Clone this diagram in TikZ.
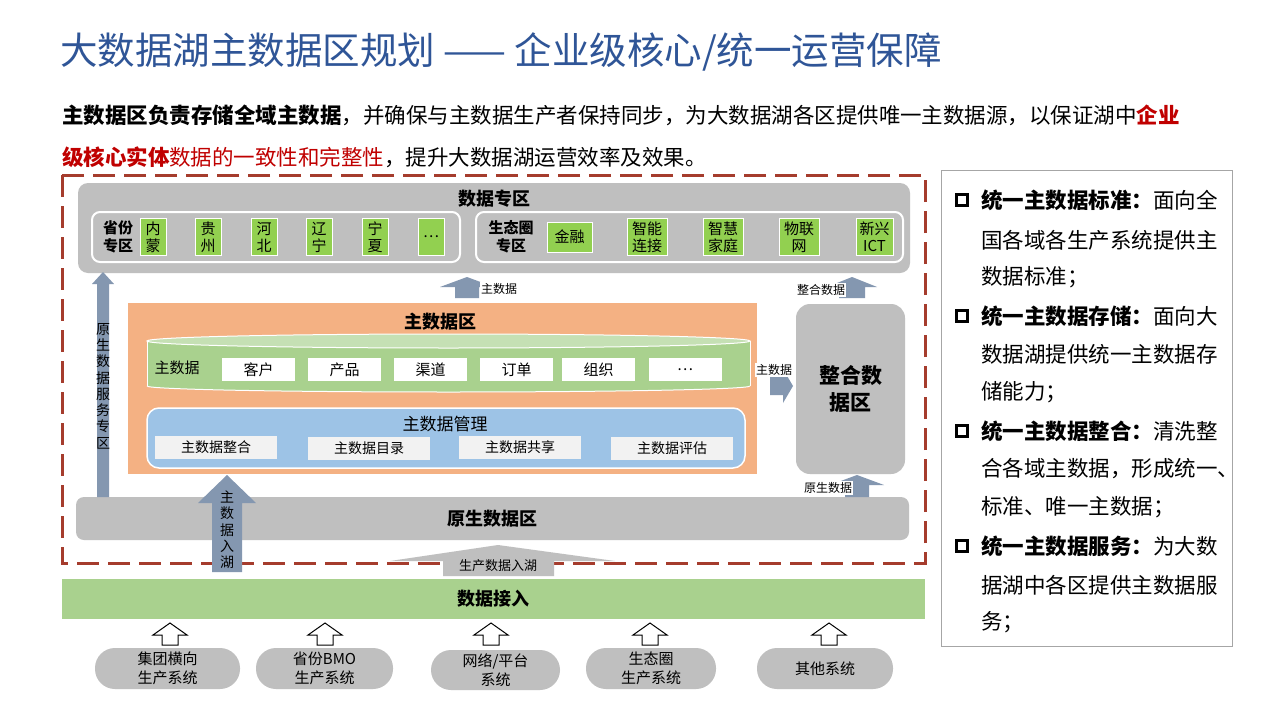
\documentclass[tikz,border=0pt]{standalone}
\usepackage{fontspec}
\setmainfont{Noto Sans CJK SC}
\definecolor{titleblue}{RGB}{47,85,151}
\definecolor{darkred}{RGB}{192,0,0}
\definecolor{dashred}{RGB}{165,60,45}
\definecolor{zonegray}{RGB}{191,191,191}
\definecolor{orangebg}{RGB}{244,177,131}
\definecolor{lgreen}{RGB}{169,209,142}
\definecolor{toplgreen}{RGB}{197,224,180}
\definecolor{vgreen}{RGB}{146,208,80}
\definecolor{lblue}{RGB}{157,195,230}
\definecolor{boxgray}{RGB}{242,242,242}
\definecolor{arrowblue}{RGB}{132,151,176}
\definecolor{panelgray}{RGB}{166,166,166}
\newcommand\fsz[2]{\fontsize{#1}{#2}\selectfont}
% block up arrow: style, cx, ytop, ybottom, head width, shaft width, head height
\newcommand\blockup[7]{\path[#1] ({#2-#6/2},#4) -- ({#2-#6/2},{#3+#7}) -- ({#2-#5/2},{#3+#7}) -- (#2,#3) -- ({#2+#5/2},{#3+#7}) -- ({#2+#6/2},{#3+#7}) -- ({#2+#6/2},#4) -- cycle;}
\tikzset{
  zone/.style={fill=zonegray, rounded corners=10pt},
  gbox/.style={fill=vgreen, draw=white, line width=1pt, font={\fsz{15}{17}}, align=center},
  wbox/.style={fill=white, font={\fsz{15}{18}}},
  mbox/.style={fill=boxgray, font={\fsz{14}{17}}},
  pill/.style={fill=zonegray, rounded corners=20pt, font={\fsz{15}{19}}, align=center},
  lbl/.style={font={\fsz{12}{14}}, fill=white, inner sep=1pt},
  vtext/.style={font={\fsz{14}{16.3}}, align=center},
  ptext/.style={anchor=west, font={\fsz{21.5}{24}}},
  bullet/.style={draw=black, line width=2.8pt, minimum size=11pt},
}
\begin{document}
\begin{tikzpicture}[x=1pt,y=-1pt, every node/.style={inner sep=0pt, outer sep=0pt}]
\useasboundingbox (0,0) rectangle (1280,720);
\fill[white] (0,0) rectangle (1280,720);

% title and intro
\node[anchor=west, text=titleblue, font={\fsz{37.5}{42}}] (title) at (60,52) {大数据湖主数据区规划 —— 企业级核心/统一运营保障};
\node[anchor=west, font={\fsz{21.5}{24}}] (intro1) at (62,115) {{\bfseries 主数据区负责存储全域主数据}，并确保与主数据生产者保持同步，为大数据湖各区提供唯一主数据源，以保证湖中{\color{darkred}\bfseries 企业}};
\node[anchor=west, font={\fsz{21.5}{24}}] (intro2) at (62,157) {{\color{darkred}{\bfseries 级核心实体}数据的一致性和完整性}，提升大数据湖运营效率及效果。};

% dashed frame
\draw[dashred, line width=3pt, dash pattern=on 22pt off 9pt] (62,175) rectangle (925,563);

% data zone
\node[zone, minimum width=832pt, minimum height=90pt] (dz) at (494,228) {};
\node[font={\fsz{18}{20}\bfseries}] (dzt) at (494,199) {数据专区};
\node[draw=white, line width=2pt, rounded corners=8pt, minimum width=368pt, minimum height=50pt] (prov) at (276,237) {};
\node[draw=white, line width=2pt, rounded corners=8pt, minimum width=427pt, minimum height=50pt] (eco) at (689.5,237) {};
\node[font={\fsz{15}{18}\bfseries}, align=center] (provt) at (118,237) {省份\\专区};
\node[gbox, minimum width=26pt, minimum height=37pt] (p1) at (153,237) {内\\蒙};
\node[gbox, minimum width=26pt, minimum height=37pt] (p2) at (208,237) {贵\\州};
\node[gbox, minimum width=26pt, minimum height=37pt] (p3) at (264,237) {河\\北};
\node[gbox, minimum width=26pt, minimum height=37pt] (p4) at (319,237) {辽\\宁};
\node[gbox, minimum width=26pt, minimum height=37pt] (p5) at (375,237) {宁\\夏};
\node[gbox, minimum width=26pt, minimum height=37pt] (p6) at (431,237) {…};
\node[font={\fsz{15}{18}\bfseries}, align=center] (ecot) at (511,237) {生态圈\\专区};
\node[gbox, minimum width=45pt, minimum height=30pt] (e1) at (569.5,237) {金融};
\node[gbox, minimum width=40pt, minimum height=37pt] (e2) at (647,237) {智能\\连接};
\node[gbox, minimum width=40pt, minimum height=37pt] (e3) at (723,237) {智慧\\家庭};
\node[gbox, minimum width=40pt, minimum height=37pt] (e4) at (799,237) {物联\\网};
\node[gbox, minimum width=37pt, minimum height=37pt] (e5) at (874.5,237) {新兴\\ICT};

% master data zone
\node[fill=orangebg, minimum width=629pt, minimum height=171pt] (mdz) at (442.5,388.5) {};
\node[font={\fsz{18}{20}\bfseries}] (mdzt) at (440,322) {主数据区};
% cylinder
\fill[lgreen] (147,341) rectangle (750,386);
\fill[lgreen] (448.5,386) ellipse [x radius=301.5pt, y radius=6pt];
\draw[white, line width=1pt] (147,341) -- (147,386);
\draw[white, line width=1pt] (750,341) -- (750,386);
\draw[white, line width=1pt] (147,386) arc[start angle=180, end angle=360, x radius=301.5pt, y radius=6pt];
\filldraw[fill=toplgreen, draw=white, line width=1pt] (448.5,341) ellipse [x radius=301.5pt, y radius=7pt];
\node[font={\fsz{15}{18}}] (mdl) at (177,368) {主数据};
\node[wbox, minimum width=73pt, minimum height=23pt] (c1) at (258.5,369.5) {客户};
\node[wbox, minimum width=73pt, minimum height=23pt] (c2) at (344.5,369.5) {产品};
\node[wbox, minimum width=73pt, minimum height=23pt] (c3) at (430.5,369.5) {渠道};
\node[wbox, minimum width=73pt, minimum height=23pt] (c4) at (516.5,369.5) {订单};
\node[wbox, minimum width=73pt, minimum height=23pt] (c5) at (598.5,369.5) {组织};
\node[wbox, minimum width=73pt, minimum height=23pt] (c6) at (685,369.5) {…};
% management
\node[fill=lblue, draw=white, line width=1.5pt, rounded corners=12pt, minimum width=598pt, minimum height=60pt] (mgmt) at (446,438) {};
\node[font={\fsz{17}{20}}] (mgmtt) at (445,424) {主数据管理};
\node[mbox, minimum width=122pt, minimum height=23pt] (m1) at (216,447.5) {主数据整合};
\node[mbox, minimum width=122pt, minimum height=23pt] (m2) at (369,448.5) {主数据目录};
\node[mbox, minimum width=122pt, minimum height=23pt] (m3) at (520,447.5) {主数据共享};
\node[mbox, minimum width=122pt, minimum height=23pt] (m4) at (672,448.5) {主数据评估};

% integration zone
\node[zone, rounded corners=14pt, minimum width=109pt, minimum height=170pt, font={\fsz{21}{27}\bfseries}, align=center] (iz) at (850.5,389) {整合数\\据区};

% raw data zone
\node[zone, rounded corners=8pt, minimum width=833pt, minimum height=43pt, font={\fsz{18}{20}\bfseries}] (raw) at (492.5,518.5) {原生数据区};

% arrows
\blockup{fill=arrowblue}{103}{272}{497}{22}{12}{12}
\node[vtext] (vt1) at (103,386) {原\\生\\数\\据\\服\\务\\专\\区};
\blockup{fill=arrowblue}{467}{277}{298}{54}{24}{10}
\node[lbl] (l1) at (499,289) {主数据};
\blockup{fill=arrowblue}{852}{277}{298}{50}{26}{10}
\node[lbl] (l2) at (821,290) {整合数据};
\blockup{fill=arrowblue}{857}{475}{497}{54}{24}{10}
\node[lbl] (l3) at (828,488) {原生数据};
\path[fill=arrowblue] (770,377) -- (783,377) -- (783,369) -- (793,386) -- (783,403) -- (783,395) -- (770,395) -- cycle;
\node[lbl] (l4) at (774,370) {主数据};
\blockup{fill=arrowblue}{227}{475}{572}{58}{30}{28}
\node[vtext] (vt2) at (227,530) {主\\数\\据\\入\\湖};
\path[fill=zonegray] (443,576) -- (443,561) -- (390,561) -- (498,545) -- (615,561) -- (554,561) -- (554,576) -- cycle;
\node[font={\fsz{13}{15}}] (l5) at (498,566) {生产数据入湖};

% data access bar
\node[fill=lgreen, minimum width=863pt, minimum height=40pt, font={\fsz{18}{20}\bfseries}] (acc) at (493.5,599) {数据接入};

% source systems
\foreach \cx in {170,325,491,650,829}{
  \blockup{draw=black, line width=1pt, fill=white}{\cx}{623}{645}{34}{16}{12}
}
\node[pill, minimum width=145pt, minimum height=41pt] (s1) at (167.5,668.5) {集团横向\\生产系统};
\node[pill, minimum width=137pt, minimum height=41pt] (s2) at (324.5,668.5) {省份BMO\\生产系统};
\node[pill, minimum width=129pt, minimum height=40pt] (s3) at (495.5,670) {网络/平台\\系统};
\node[pill, minimum width=130pt, minimum height=41pt] (s4) at (651,668.5) {生态圈\\生产系统};
\node[pill, minimum width=136pt, minimum height=41pt] (s5) at (825,668.5) {其他系统};

% right panel
\node[draw=panelgray, line width=1pt, minimum width=291pt, minimum height=476pt] (panel) at (1086.5,408) {};
\node[bullet] (b1) at (962,200) {};
\node[bullet] (b2) at (962,316) {};
\node[bullet] (b3) at (962,431) {};
\node[bullet] (b4) at (962,546) {};
\node[ptext] (t1) at (981,200) {{\bfseries 统一主数据标准：}面向全};
\node[ptext] (t2) at (981,240) {国各域各生产系统提供主};
\node[ptext] (t3) at (981,277) {数据标准；};
\node[ptext] (t4) at (981,316) {{\bfseries 统一主数据存储：}面向大};
\node[ptext] (t5) at (981,354) {数据湖提供统一主数据存};
\node[ptext] (t6) at (981,392) {储能力；};
\node[ptext] (t7) at (981,431) {{\bfseries 统一主数据整合：}清洗整};
\node[ptext] (t8) at (981,469) {合各域主数据，形成统一、};
\node[ptext] (t9) at (981,507) {标准、唯一主数据；};
\node[ptext] (t10) at (981,546) {{\bfseries 统一主数据服务：}为大数};
\node[ptext] (t11) at (981,585) {据湖中各区提供主数据服};
\node[ptext] (t12) at (981,622) {务；};
\end{tikzpicture}
\end{document}
